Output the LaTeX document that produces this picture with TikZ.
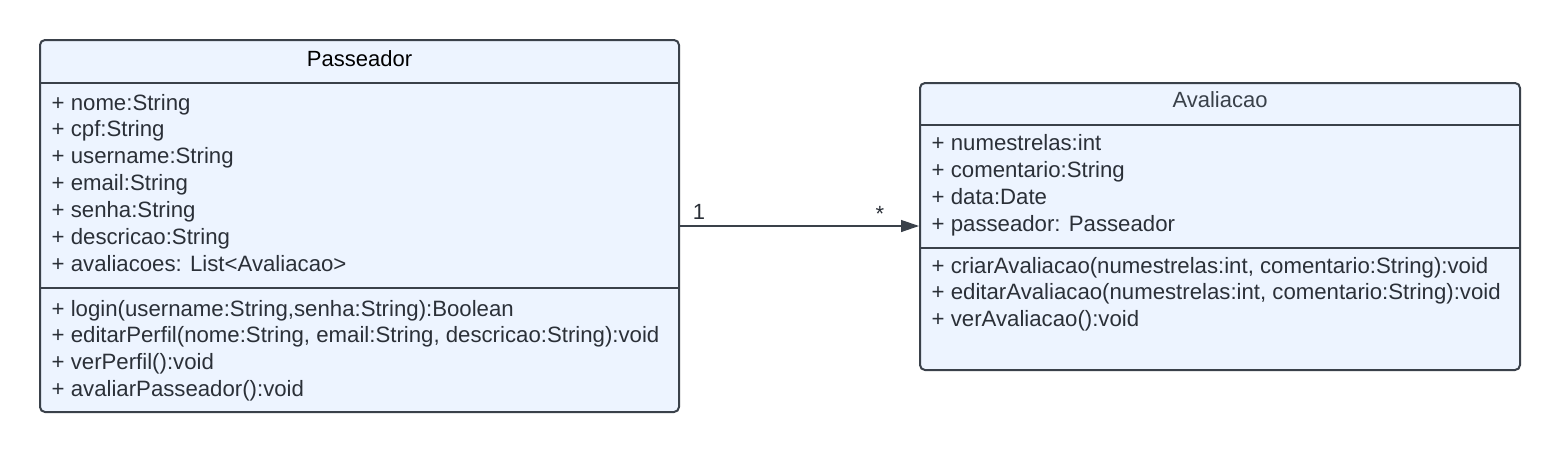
\documentclass[tikz,border=0pt]{standalone}
\usepackage{fontspec}
\setmainfont{Liberation Sans}
\usetikzlibrary{arrows.meta}
\definecolor{classfill}{HTML}{EDF4FF}
\definecolor{classline}{HTML}{3A414A}
\definecolor{membertext}{HTML}{2B3038}
\tikzset{
	classbox/.style={draw=classline, fill=classfill, line width=2pt, rounded corners=5pt, inner sep=0pt},
	classsep/.style={draw=classline, line width=2pt},
	member/.style={anchor=base west, inner sep=0pt, text=membertext, font=\fontsize{22.2}{27}\selectfont},
	classtitle/.style={anchor=base, inner sep=0pt, font=\fontsize{22}{27}\selectfont},
	assoc/.style={draw=classline, line width=1.3pt, -{Triangle[length=18pt, width=12pt]}},
	mult/.style={anchor=base, inner sep=0pt, text=membertext, font=\fontsize{22}{27}\selectfont}
}

\begin{document}
\begin{tikzpicture}[x=1pt, y=-1pt]
	\useasboundingbox (0, 0) rectangle (1560, 453);
	% Passeador
	\node[classbox, minimum width=639pt, minimum height=372pt] (passeador) at (359.5, 226) {};
	\draw[classsep] (40, 83) -- (679, 83);
	\draw[classsep] (40, 288) -- (679, 288);
	\node[classtitle, text=black] (passeadortitle) at (359.5, 66.7) {Passeador};
	\foreach \m [count=\i from 0] in {+ nome:String, + cpf:String, + username:String, + email:String, + senha:String, + descricao:String, + avaliacoes: List<Avaliacao>}
		\node[member] (passeadorattr\i) at (51.5, 110 + 26.9*\i) {\m};
	\foreach \m [count=\i from 0] in {{+ login(username:String,senha:String):Boolean}, {+ editarPerfil(nome:String, email:String, descricao:String):void}, + verPerfil():void, + avaliarPasseador():void}
		\node[member] (passeadorop\i) at (51.5, 316 + 26.9*\i) {\m};
	% Avaliacao
	\node[classbox, minimum width=600pt, minimum height=287pt] (avaliacao) at (1220, 226.5) {};
	\draw[classsep] (920, 124.5) -- (1520, 124.5);
	\draw[classsep] (920, 248) -- (1520, 248);
	\node[classtitle, text=classline] (avaliacaotitle) at (1220, 107.3) {Avaliacao};
	\foreach \m [count=\i from 0] in {+ numestrelas:int, + comentario:String, + data:Date, + passeador: Passeador}
		\node[member] (avaliacaoattr\i) at (931.5, 150.5 + 26.9*\i) {\m};
	\foreach \m [count=\i from 0] in {{+ criarAvaliacao(numestrelas:int, comentario:String):void}, {+ editarAvaliacao(numestrelas:int, comentario:String):void}, + verAvaliacao():void}
		\node[member] (avaliacaoop\i) at (931.5, 273 + 26.9*\i) {\m};
	% association
	\draw[assoc] (passeador.east) -- (passeador.east -| avaliacao.west);
	\node[mult] (multpasseador) at (699, 219) {1};
	\node[mult] (multavaliacao) at (880, 221) {*};
\end{tikzpicture}
\end{document}
